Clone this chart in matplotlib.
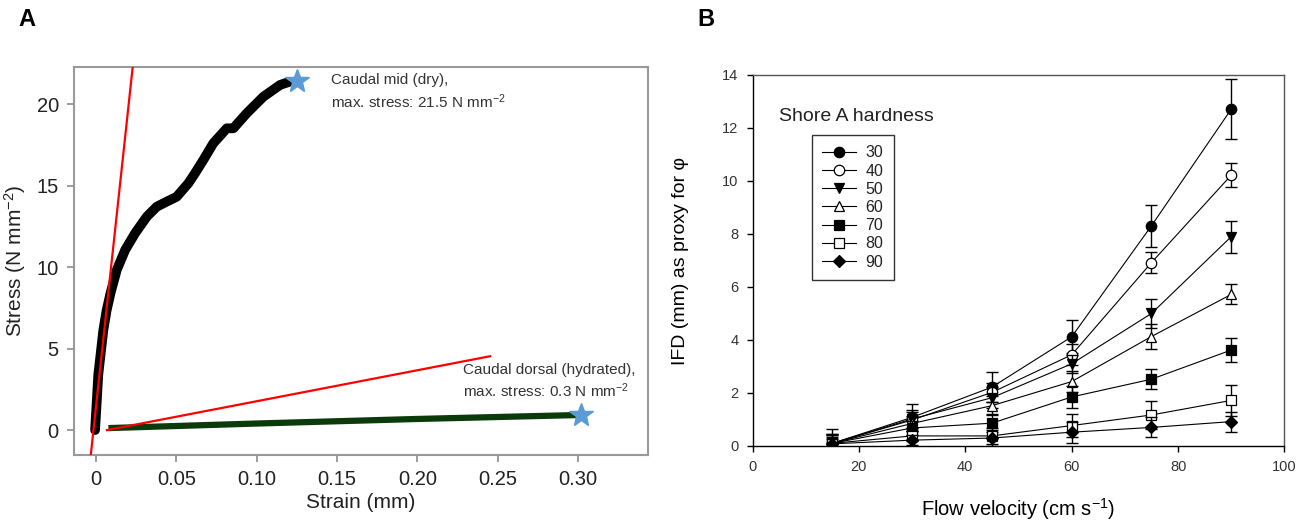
import numpy as np
import matplotlib.pyplot as plt

plt.rcParams['font.family'] = ['Liberation Sans', 'DejaVu Sans']
plt.rcParams['mathtext.fontset'] = 'custom'
plt.rcParams['mathtext.rm'] = 'Liberation Sans'
plt.rcParams['mathtext.default'] = 'regular'

# --- Panel A: stress-strain curves ---
dry_strain = [-0.0006, 0.0014, 0.0045, 0.0065, 0.0090, 0.0129, 0.0181, 0.0243,
              0.0316, 0.0378, 0.0440, 0.0502, 0.0575, 0.0616, 0.0670, 0.0730,
              0.0814, 0.0855, 0.0938, 0.1042, 0.1146, 0.1200]
dry_stress = [0.0, 3.40, 6.10, 7.30, 8.40, 9.82, 11.04, 12.07,
              13.09, 13.70, 14.01, 14.31, 15.14, 15.75, 16.60, 17.59,
              18.51, 18.51, 19.43, 20.45, 21.17, 21.35]
wet_strain = [0.0077, 0.10, 0.20, 0.300]
wet_stress = [0.12, 0.40, 0.68, 0.92]
max_points = [(0.125, 21.4), (0.302, 0.92)]

# tangent (modulus) lines: slope, x-intercept, x-range
mod_dry = (912.0, -0.0016, (-0.01, 0.03))
mod_wet = (19.0, 0.0070, (0.0068, 0.2453))

# --- Panel B: IFD vs flow velocity ---
velocity = [15, 30, 45, 60, 75, 90]
hardness = ['30', '40', '50', '60', '70', '80', '90']
ifd = {
    '30': [0.10, 1.08, 2.22, 4.12, 8.31, 12.71],
    '40': [0.10, 0.98, 2.02, 3.44, 6.92, 10.22],
    '50': [0.10, 1.02, 1.82, 3.10, 5.00, 7.90],
    '60': [0.10, 0.85, 1.52, 2.43, 4.13, 5.72],
    '70': [0.10, 0.68, 0.86, 1.85, 2.52, 3.62],
    '80': [0.10, 0.38, 0.38, 0.77, 1.17, 1.72],
    '90': [0.08, 0.22, 0.30, 0.52, 0.70, 0.92],
}
ifd_err = {
    '30': [0.55, 0.50, 0.56, 0.63, 0.80, 1.12],
    '40': [0.35, 0.30, 0.35, 0.40, 0.40, 0.45],
    '50': [0.35, 0.35, 0.40, 0.35, 0.55, 0.60],
    '60': [0.30, 0.30, 0.35, 0.40, 0.47, 0.38],
    '70': [0.30, 0.25, 0.35, 0.42, 0.38, 0.45],
    '80': [0.25, 0.20, 0.30, 0.45, 0.52, 0.57],
    '90': [0.20, 0.20, 0.30, 0.40, 0.38, 0.38],
}
markers = {'30': ('o', 'black'), '40': ('o', 'white'), '50': ('v', 'black'),
           '60': ('^', 'white'), '70': ('s', 'black'), '80': ('s', 'white'),
           '90': ('D', 'black')}

fig = plt.figure(figsize=(12.99, 5.21), dpi=100)

# ---------------- Panel A ----------------
axA = fig.add_axes([0.0570, 0.1267, 0.4419, 0.7447])
star_col = '#5b9bd5'

for slope, x0, (xa, xb) in (mod_dry, mod_wet):
    xs = np.array([xa, xb])
    axA.plot(xs, slope * (xs - x0), color='red', lw=1.6, zorder=3)

axA.plot(wet_strain, wet_stress, color='#0b3a0b', lw=4.5, solid_capstyle='butt', zorder=2)
axA.plot(dry_strain, dry_stress, color='black', lw=7, solid_capstyle='round',
         solid_joinstyle='round', zorder=2)
for sx, sy in max_points:
    axA.plot(sx, sy, marker='*', ms=18, color=star_col, mec=star_col, zorder=4)

axA.text(0.1461, 20.74, 'Caudal mid (dry),\nmax. stress: 21.5 N mm$^{-2}$',
         fontsize=11, color='#333333', va='center', ha='left', linespacing=1.3)
axA.text(0.2287, 3.0, 'Caudal dorsal (hydrated),\nmax. stress: 0.3 N mm$^{-2}$',
         fontsize=11, color='#333333', va='center', ha='left', linespacing=1.3)

axA.set_xlim(-0.0137, 0.3437)
axA.set_ylim(-1.53, 22.27)
axA.set_xticks([0, 0.05, 0.10, 0.15, 0.20, 0.25, 0.30])
axA.set_xticklabels(['0', '0.05', '0.10', '0.15', '0.20', '0.25', '0.30'])
axA.set_yticks([0, 5, 10, 15, 20])
axA.tick_params(direction='out', length=5, width=1.2, color='#8a8a8a',
                labelsize=14.5, labelcolor='#222222', pad=6)
for sp in axA.spines.values():
    sp.set_color('#9a9a9a')
    sp.set_linewidth(1.5)
axA.set_xlabel('Strain (mm)', fontsize=15, color='#222222', labelpad=3)
axA.set_ylabel('Stress (N mm$^{-2}$)', fontsize=15, color='#222222', labelpad=6)

# ---------------- Panel B ----------------
axB = fig.add_axes([0.5793, 0.1440, 0.4095, 0.7121])
for h in hardness:
    m, fc = markers[h]
    ms = 6.5 if m == 'D' else 7.5
    axB.errorbar(velocity, ifd[h], yerr=ifd_err[h], fmt='none',
                 ecolor='black', elinewidth=1.0, capsize=4, capthick=1.0)
    axB.plot(velocity, ifd[h], color='black', lw=0.8,
             marker=m, ms=ms, mfc=fc, mec='black', mew=0.9, label=h)

axB.set_xlim(0, 100)
axB.set_ylim(0, 14)
axB.set_xticks(np.arange(0, 101, 20))
axB.set_yticks(np.arange(0, 15, 2))
axB.tick_params(direction='out', length=4, width=1, labelsize=10.5,
                labelcolor='#333333', pad=6)
axB.tick_params(top=False, right=False)
for side in ('left', 'bottom'):
    axB.spines[side].set_color('black')
    axB.spines[side].set_linewidth(1.0)
for side in ('top', 'right'):
    axB.spines[side].set_color('#555555')
    axB.spines[side].set_linewidth(1.0)
axB.set_xlabel('Flow velocity (cm s$^{-1}$)', fontsize=14.5, labelpad=16)
axB.set_ylabel('IFD (mm) as proxy for φ', fontsize=14, labelpad=24)

leg = axB.legend(loc='upper left', bbox_to_anchor=(0.112, 0.838), borderaxespad=0,
                 frameon=True, fancybox=False, fontsize=11.5, handlelength=2.1,
                 labelspacing=0.2, handletextpad=0.6, borderpad=0.65)
leg.get_frame().set_edgecolor('black')
leg.get_frame().set_linewidth(1.0)
for t in leg.get_texts():
    t.set_color('#222222')
axB.text(0.05, 0.887, 'Shore A hardness', transform=axB.transAxes,
         fontsize=14, va='center', ha='left', color='#222222')

fig.text(0.0139, 0.962, 'A', fontsize=17, fontweight='bold', va='center', ha='left')
fig.text(0.5366, 0.962, 'B', fontsize=17, fontweight='bold', va='center', ha='left')

fig.savefig('out.png', dpi=100)
